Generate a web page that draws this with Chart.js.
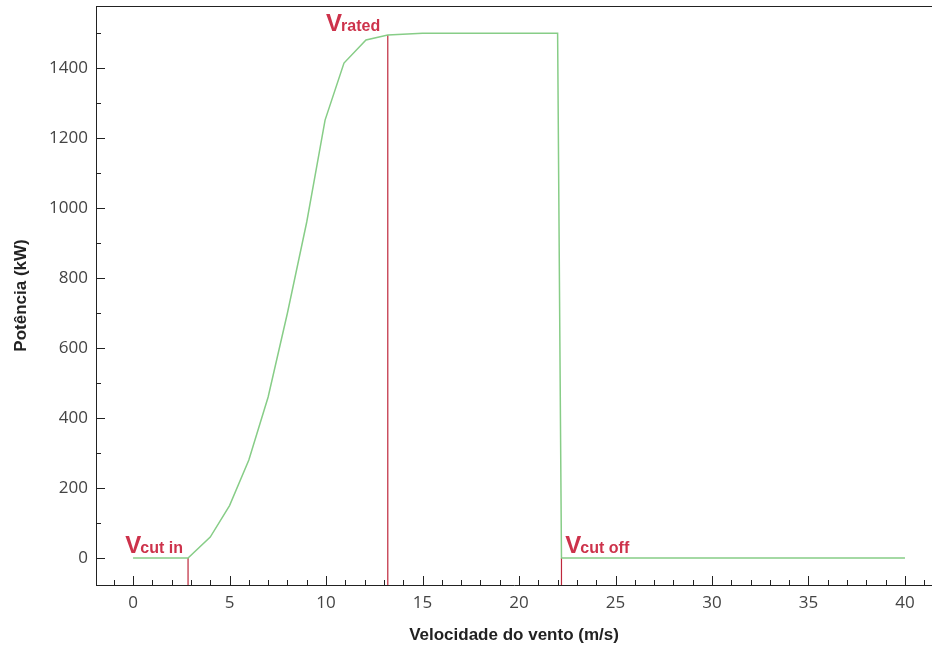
<!DOCTYPE html>
<html>
<head>
<meta charset="utf-8">
<script src="https://cdn.jsdelivr.net/npm/chart.js@4.4.1/dist/chart.umd.min.js"></script>
<style>
  html, body { margin: 0; padding: 0; background: #fff; }
  #wrap { width: 932px; height: 650px; }
</style>
</head>
<body>
<div id="wrap"><canvas id="powerChart"></canvas></div>
<script>
// wind speed (m/s) and power (kW)
const windSpeed = [0, 2.85, 4, 5, 6, 7, 8, 9, 9.95, 10.93, 12.07, 13.2, 15, 22, 22.2, 40];
const powerKw   = [0, 0, 60, 150, 280, 460, 700, 960, 1251, 1414, 1480, 1494, 1499, 1499, 0, 0];

// red marker lines: cut in, rated, cut off
const cutInLine   = [[2.85, 0], [2.85, -77]];
const ratedLine   = [[13.2, 1494], [13.2, -77]];
const cutOffLine  = [[22.2, 0], [22.2, -77]];

const xTicks = [0, 5, 10, 15, 20, 25, 30, 35, 40];
const yTicks = [0, 200, 400, 600, 800, 1000, 1200, 1400];

const green = "rgb(135, 205, 135)";
const red = "rgb(190, 40, 60)";
const redText = "rgb(205, 50, 75)";

const toPts = (xs, ys) => xs.map((x, i) => ({ x: x, y: ys[i] }));
const pairPts = arr => arr.map(p => ({ x: p[0], y: p[1] }));

// ticks inside the axes + top border + V labels
const decorPlugin = {
  id: "decor",
  afterDraw(chart) {
    const ctx = chart.ctx;
    const xs = chart.scales.x, ys = chart.scales.y;
    const a = chart.chartArea;
    ctx.save();
    ctx.strokeStyle = "#222";
    ctx.lineWidth = 1;
    ctx.beginPath();
    ctx.moveTo(a.left, a.top + 0.5);
    ctx.lineTo(a.right, a.top + 0.5);
    // x ticks, minor every 1
    for (let v = -1; v <= 41; v++) {
      const px = Math.round(xs.getPixelForValue(v)) + 0.5;
      if (px < a.left || px > a.right) continue;
      const len = v % 5 === 0 ? 9 : 5;
      ctx.moveTo(px, a.bottom);
      ctx.lineTo(px, a.bottom - len);
    }
    // y ticks, minor every 100
    for (let v = 0; v <= 1500; v += 100) {
      const py = Math.round(ys.getPixelForValue(v)) + 0.5;
      const len = v % 200 === 0 ? 9 : 5;
      ctx.moveTo(a.left, py);
      ctx.lineTo(a.left + len, py);
    }
    ctx.stroke();

    const vLabel = (x, y, sub) => {
      let px = xs.getPixelForValue(x);
      const py = ys.getPixelForValue(y);
      ctx.fillStyle = redText;
      ctx.textBaseline = "alphabetic";
      ctx.textAlign = "left";
      ctx.font = "bold 24px 'Liberation Sans', Arial, sans-serif";
      ctx.fillText("V", px, py);
      px += ctx.measureText("V").width - 1;
      ctx.font = "bold 16px 'Liberation Sans', Arial, sans-serif";
      ctx.fillText(sub, px, py);
    };
    vLabel(-0.4, 14, "cut in");
    vLabel(10.0, 1507, "rated");
    vLabel(22.4, 14, "cut off");
    ctx.restore();
  }
};

new Chart(document.getElementById("powerChart"), {
  type: "scatter",
  data: {
    datasets: [
      { data: toPts(windSpeed, powerKw), borderColor: green, borderWidth: 1.5, showLine: true, pointRadius: 0, tension: 0 },
      { data: pairPts(cutInLine), borderColor: red, borderWidth: 1.2, showLine: true, pointRadius: 0 },
      { data: pairPts(ratedLine), borderColor: red, borderWidth: 1.2, showLine: true, pointRadius: 0 },
      { data: pairPts(cutOffLine), borderColor: red, borderWidth: 1.2, showLine: true, pointRadius: 0 }
    ]
  },
  options: {
    responsive: true,
    maintainAspectRatio: false,
    animation: false,
    layout: { padding: { top: 6, right: 0, left: 0, bottom: 0 } },
    plugins: { legend: { display: false }, tooltip: { enabled: false } },
    scales: {
      x: {
        type: "linear",
        min: -1.92,
        max: 41.4,
        afterBuildTicks: s => { s.ticks = xTicks.map(v => ({ value: v })); },
        afterFit: s => { s.height = 65; s.paddingLeft = 0; s.paddingRight = 0; },
        grid: { display: false, drawTicks: false },
        border: { display: true, color: "#222", width: 1 },
        ticks: { color: "#444", padding: 8, callback: v => String(v),
          font: { family: "'Open Sans', 'Noto Sans', sans-serif", size: 17 } },
        title: { display: true, text: "Velocidade do vento (m/s)", color: "#222", padding: { top: 1 },
          font: { family: "'Liberation Sans', Arial, sans-serif", size: 17, weight: "bold" } }
      },
      y: {
        type: "linear",
        min: -77,
        max: 1577,
        afterBuildTicks: s => { s.ticks = yTicks.map(v => ({ value: v })); },
        afterFit: s => { s.width = 96; s.paddingTop = 0; s.paddingBottom = 0; },
        grid: { display: false, drawTicks: false },
        border: { display: true, color: "#222", width: 1 },
        ticks: { color: "#444", padding: 8, callback: v => String(v),
          font: { family: "'Open Sans', 'Noto Sans', sans-serif", size: 17 } },
        title: { display: true, text: "Potência (kW)", color: "#222", padding: { top: 11, bottom: 4 },
          font: { family: "'Liberation Sans', Arial, sans-serif", size: 17, weight: "bold" } }
      }
    }
  },
  plugins: [decorPlugin]
});
</script>
</body>
</html>
